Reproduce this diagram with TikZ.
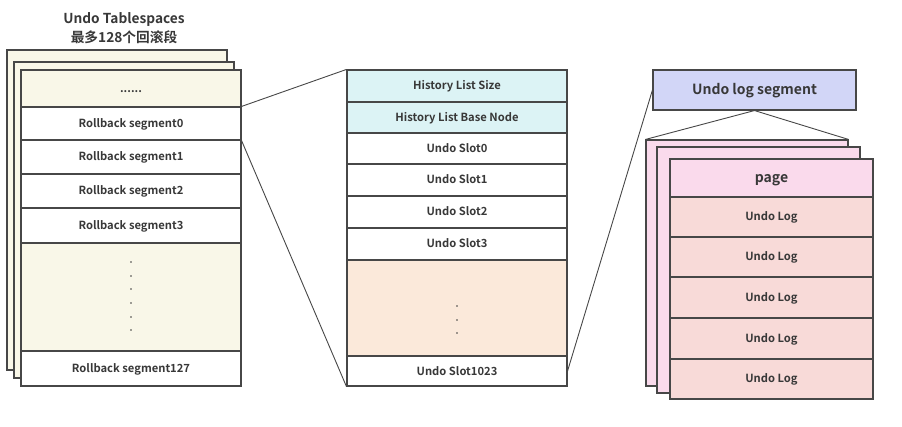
\documentclass[tikz,border=0pt]{standalone}
\usepackage{fontspec}
\setmainfont{Noto Sans CJK SC}[BoldFont={Noto Sans CJK SC Bold}]
\begin{document}
\begin{tikzpicture}[x=1pt,y=-1pt,
  linec/.style={draw=black!72, line width=1.1pt},
  cell/.style={linec, rectangle, inner sep=0pt, text height=8pt, text depth=0pt, font=\fontsize{11.2}{13}\selectfont\bfseries, text=black!78},
  lcell/.style={cell, minimum width=220pt},
  rcell/.style={cell, minimum width=203pt},
  big/.style={font=\fontsize{14}{16}\selectfont\bfseries, text height=10pt},
  dotc/.style={fill=black!75, draw=none, circle, inner sep=0pt, minimum size=1.8pt},
  conn/.style={draw=black!72, line width=0.9pt}
]
\definecolor{cream}{RGB}{249,247,232}
\definecolor{cyanc}{RGB}{220,243,245}
\definecolor{peach}{RGB}{251,233,218}
\definecolor{lav}{RGB}{210,214,247}
\definecolor{pagec}{RGB}{250,218,236}
\definecolor{logc}{RGB}{248,218,216}
\useasboundingbox (0,0) rectangle (902,427);

% title
\node[font=\fontsize{13.7}{19}\selectfont\bfseries, text=black!78, align=center] (title) at (124,28) {Undo Tablespaces\\最多128个回滚段};

% left stack
\node[linec, fill=cream, minimum width=220pt, minimum height=320pt, inner sep=0pt] (lback) at (117,210) {};
\node[linec, fill=cream, minimum width=220pt, minimum height=316pt, inner sep=0pt] (lmid) at (124,220) {};
\node[lcell, fill=cream, minimum height=37pt] (ldtop) at (131,88.5) {......};
\node[lcell, fill=white, minimum height=33pt] (seg0) at (131,123.5) {Rollback segment0};
\node[lcell, fill=white, minimum height=34pt] (seg1) at (131,157) {Rollback segment1};
\node[lcell, fill=white, minimum height=34pt] (seg2) at (131,191) {Rollback segment2};
\node[lcell, fill=white, minimum height=35pt] (seg3) at (131,225.5) {Rollback segment3};
\node[lcell, fill=cream, minimum height=108pt] (ldots) at (131,297) {};
\node[lcell, fill=white, minimum height=35pt] (seg127) at (131,368.5) {Rollback segment127};
\foreach \y in {262,276,289,303,317,330} \node[dotc] at (131,\y) {};

% middle column
\node[lcell, fill=cyanc, minimum height=32pt] (hls) at (457,86) {History List Size};
\node[lcell, fill=cyanc, minimum height=31pt] (hlbn) at (457,117.5) {History List Base Node};
\node[lcell, fill=white, minimum height=31pt] (s0) at (457,148.5) {Undo Slot0};
\node[lcell, fill=white, minimum height=32pt] (s1) at (457,180) {Undo Slot1};
\node[lcell, fill=white, minimum height=32pt] (s2) at (457,212) {Undo Slot2};
\node[lcell, fill=white, minimum height=32pt] (s3) at (457,244) {Undo Slot3};
\node[lcell, fill=peach, minimum height=96pt] (mdots) at (457,308) {};
\node[lcell, fill=white, minimum height=30pt] (s1023) at (457,371) {Undo Slot1023};
\foreach \y in {306,320,333} \node[dotc] at (457,\y) {};

% right
\node[rcell, big, fill=lav, minimum height=40pt] (uls) at (754.5,90) {Undo log segment};
\node[linec, fill=pagec, minimum width=202pt, minimum height=246pt, inner sep=0pt] (pback) at (747,263) {};
\node[linec, fill=pagec, minimum width=203pt, minimum height=246pt, inner sep=0pt] (pmid) at (758.5,270) {};
\node[rcell, big, fill=pagec, minimum height=38pt] (page) at (771.5,178) {page};
\node[rcell, fill=logc, minimum height=40pt] (log1) at (771.5,217) {Undo Log};
\node[rcell, fill=logc, minimum height=40pt] (log2) at (771.5,257) {Undo Log};
\node[rcell, fill=logc, minimum height=41pt] (log3) at (771.5,297.5) {Undo Log};
\node[rcell, fill=logc, minimum height=41pt] (log4) at (771.5,338.5) {Undo Log};
\node[rcell, fill=logc, minimum height=40pt] (log5) at (771.5,379) {Undo Log};

% connectors
\draw[conn] (seg0.north east) -- (hls.north west);
\draw[conn] (seg0.south east) -- (s1023.south west);
\draw[conn] (s1023.east) -- (uls.west);
\draw[conn] (pback.north west) -- (uls.south) -- (pback.north east);
\end{tikzpicture}
\end{document}
